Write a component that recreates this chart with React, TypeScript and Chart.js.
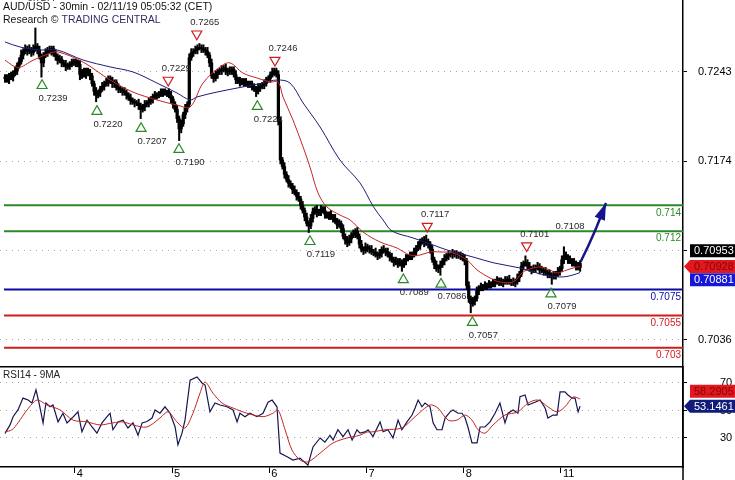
import React, { useEffect, useRef } from 'react';
import { Chart, registerables } from 'chart.js';

Chart.register(...registerables);

const FONT = '"Liberation Sans", Arial, Helvetica, sans-serif';
const PIP = 10000;

// ---------- axes ----------
const dayTicks = [34.5, 82.5, 130.5, 178.5, 226.5, 274.5];
const dayLabels = ['4', '5', '6', '7', '8', '11'];
const priceTicks = [0.7243, 0.7174, 0.7105, 0.7036];
const priceMin = 0.70159;
const priceMax = 0.72986;
const rsiTicks = [30, 50, 70];
const rsiMin = 8.9;
const rsiMax = 82.36;
const xMin = -2.47;
const xMax = 334.8;

// ---------- 30min candles (pips, 7243 = 0.7243) ----------
const firstOpen = 7239;
const closes = [
  7238, 7237, 7240, 7239, 7242, 7244, 7248, 7251, 7256, 7259,
  7261, 7259, 7260, 7258, 7261, 7263, 7260, 7255, 7250, 7256,
  7258, 7260, 7259, 7261, 7257, 7255, 7252, 7253, 7250, 7249,
  7247, 7248, 7249, 7250, 7251, 7250, 7249, 7241, 7243, 7241,
  7244, 7242, 7240, 7234, 7228, 7225, 7227, 7230, 7232, 7234,
  7235, 7238, 7236, 7234, 7235, 7231, 7230, 7229, 7228, 7227,
  7225, 7223, 7221, 7220, 7219, 7219, 7217, 7214, 7216, 7218,
  7219, 7220, 7222, 7224, 7225, 7225, 7226, 7227, 7228, 7227,
  7228, 7225, 7222, 7218, 7214, 7207, 7199, 7203, 7210, 7215,
  7218, 7254, 7258, 7259, 7260, 7262, 7262, 7261, 7260, 7259,
  7256, 7250, 7240, 7238, 7241, 7243, 7244, 7245, 7246, 7244,
  7243, 7244, 7245, 7241, 7237, 7236, 7235, 7236, 7235, 7234,
  7234, 7233, 7232, 7230, 7228, 7231, 7232, 7233, 7234, 7237,
  7238, 7241, 7243, 7244, 7241, 7205, 7175, 7170, 7164, 7160,
  7157, 7155, 7152, 7150, 7147, 7145, 7140, 7136, 7131, 7126,
  7124, 7130, 7135, 7137, 7134, 7135, 7137, 7136, 7133, 7132,
  7133, 7131, 7130, 7128, 7125, 7126, 7122, 7116, 7113, 7111,
  7114, 7117, 7118, 7120, 7116, 7110, 7106, 7105, 7108, 7107,
  7106, 7104, 7104, 7102, 7101, 7103, 7106, 7105, 7104, 7102,
  7100, 7098, 7096, 7097, 7095, 7096, 7094, 7097, 7099, 7100,
  7101, 7102, 7104, 7107, 7109, 7112, 7113, 7111, 7112, 7110,
  7106, 7098, 7094, 7091, 7092, 7094, 7097, 7099, 7101, 7102,
  7102, 7103, 7102, 7102, 7101, 7101, 7099, 7097, 7078, 7068,
  7064, 7066, 7068, 7074, 7076, 7077, 7077, 7078, 7078, 7079,
  7079, 7080, 7081, 7082, 7081, 7080, 7081, 7082, 7083, 7081,
  7081, 7080, 7081, 7084, 7087, 7093, 7095, 7096, 7093, 7091,
  7090, 7091, 7092, 7093, 7090, 7090, 7089, 7088, 7087, 7086,
  7085, 7086, 7087, 7089, 7091, 7098, 7101, 7100, 7098, 7097,
  7096, 7095, 7093, 7092, 7095.3,
];
const upWick = [
  2, 3, 2, 3, 2, 3, 2, 3, 4, 2,
  3, 2, 4, 2, 3, 14, 2, 3, 2, 2,
  3, 2, 3, 2, 2, 3, 2, 3, 2, 2,
  3, 2, 2, 3, 2, 2, 2, 3, 2, 3,
  2, 2, 3, 2, 2, 3, 2, 2, 3, 2,
  3, 2, 2, 3, 2, 2, 3, 2, 2, 3,
  2, 2, 3, 2, 2, 2, 3, 2, 2, 3,
  2, 3, 2, 2, 3, 2, 2, 3, 2, 2,
  1, 2, 3, 2, 2, 3, 2, 3, 2, 3,
  2, 3, 3, 2, 3, 2, 3, 2, 3, 2,
  3, 2, 3, 2, 3, 2, 2, 3, 2, 3,
  2, 3, 2, 2, 3, 2, 3, 2, 2, 3,
  2, 2, 3, 2, 2, 3, 2, 2, 3, 2,
  2, 2, 3, 2, 2, 3, 3, 2, 3, 2,
  3, 2, 2, 3, 2, 3, 2, 3, 2, 3,
  2, 3, 3, 2, 3, 2, 3, 2, 3, 2,
  2, 3, 2, 3, 2, 3, 2, 3, 2, 3,
  3, 2, 3, 2, 3, 2, 3, 2, 3, 2,
  2, 3, 2, 3, 2, 3, 2, 3, 2, 3,
  2, 3, 2, 3, 2, 3, 2, 2, 3, 2,
  3, 2, 3, 2, 3, 2, 2, 3, 5, 2,
  2, 3, 2, 3, 2, 3, 2, 3, 2, 3,
  2, 3, 2, 3, 2, 3, 2, 3, 2, 3,
  2, 3, 2, 3, 2, 3, 2, 3, 2, 3,
  2, 3, 2, 3, 2, 3, 2, 3, 2, 3,
  2, 3, 2, 3, 2, 3, 2, 5, 2, 3,
  2, 3, 2, 3, 2, 3, 2, 3, 2, 3,
  2, 3, 2, 3, 2, 3, 7, 3, 2, 3,
  2, 3, 2, 3, 2,
];
const downWick = [
  3, 2, 3, 2, 3, 2, 3, 2, 2, 3,
  2, 3, 2, 3, 2, 2, 3, 2, 11, 3,
  2, 3, 2, 3, 2, 3, 3, 2, 3, 2,
  3, 2, 3, 2, 2, 3, 2, 4, 3, 2,
  3, 2, 3, 2, 3, 5, 2, 3, 2, 3,
  2, 3, 2, 3, 3, 2, 3, 2, 3, 2,
  3, 2, 3, 2, 3, 2, 3, 7, 2, 3,
  2, 3, 2, 3, 2, 3, 2, 2, 3, 2,
  3, 2, 3, 3, 2, 3, 9, 3, 2, 3,
  3, 2, 2, 3, 2, 3, 2, 3, 2, 3,
  2, 3, 2, 3, 2, 3, 2, 3, 2, 3,
  3, 2, 3, 2, 3, 2, 3, 2, 3, 2,
  3, 2, 3, 2, 4, 2, 3, 2, 3, 2,
  2, 3, 2, 3, 2, 3, 3, 2, 3, 2,
  3, 2, 3, 2, 3, 2, 3, 2, 3, 2,
  5, 2, 3, 2, 3, 2, 3, 2, 3, 2,
  3, 2, 3, 2, 3, 2, 3, 2, 3, 3,
  2, 3, 2, 3, 2, 3, 2, 3, 2, 3,
  3, 2, 3, 2, 3, 2, 3, 2, 3, 2,
  3, 2, 3, 2, 3, 2, 5, 2, 3, 2,
  2, 3, 2, 3, 2, 3, 2, 3, 2, 3,
  3, 2, 3, 2, 3, 6, 2, 3, 2, 3,
  2, 3, 2, 3, 2, 3, 2, 3, 3, 3,
  7, 2, 3, 2, 3, 2, 3, 2, 3, 2,
  3, 2, 3, 2, 3, 2, 3, 2, 3, 2,
  3, 2, 3, 2, 3, 2, 3, 2, 3, 2,
  3, 2, 3, 2, 3, 2, 3, 2, 3, 2,
  6, 2, 3, 2, 3, 2, 3, 2, 3, 2,
  3, 2, 3, 2, 3,
];

// ---------- moving averages (bar index, pips) ----------
const redMaX = [0, 6.4, 13.8, 22.2, 26.2, 38.5, 51.9, 63.2, 75, 84.9, 91.4, 97.8, 106.2, 111.1, 117.5, 124.4, 130.9, 134.8, 137.3, 142.2, 147.2, 150.6, 154.6, 159, 165.4, 170.4, 176.8, 185.2, 193.6, 200, 204.9, 209.9, 214.8, 221.2, 228.1, 233.1, 239.5, 244.4, 250.9, 255.3, 257.8, 264.2, 269.1, 272.6, 277.5, 282.5, 284];
const redMaY = [7252, 7246.5, 7252, 7257.5, 7258.5, 7250.7, 7236.8, 7227.5, 7221.4, 7217.5, 7216, 7234.5, 7246.9, 7250, 7242.2, 7238.4, 7235.3, 7235.3, 7223.7, 7205.9, 7185.1, 7169.6, 7149.5, 7138.7, 7132.5, 7128.7, 7119.4, 7111.7, 7107, 7101.6, 7101.6, 7104, 7104, 7103.2, 7097.8, 7090.1, 7083.9, 7080.8, 7080.8, 7087.7, 7090.1, 7092.4, 7090.1, 7087.7, 7090.1, 7092.4, 7092.8];
const blueMaX = [0, 7.4, 17.3, 25.7, 38.5, 51.9, 63.2, 75, 84.9, 91.4, 94.8, 104.7, 114.6, 127.4, 134.3, 140.7, 147.2, 155.6, 165.4, 175.3, 181.9, 186.7, 191.1, 201.5, 211.4, 218.3, 231.1, 241.5, 254.3, 262.7, 269.1, 275.6, 280.5, 284];
const blueMaY = [7266.2, 7262.3, 7260, 7260, 7252.3, 7246.9, 7243, 7234.5, 7226.8, 7221.4, 7223.7, 7227.5, 7230.6, 7234.5, 7236.8, 7234.5, 7219.1, 7200.5, 7175, 7157.3, 7139, 7128.7, 7120.2, 7114.8, 7109.4, 7105.5, 7100.1, 7095.5, 7091.6, 7087.7, 7085.4, 7084.7, 7086.2, 7088.1];

// ---------- projection arrow ----------
const arrowX = [284.3, 288.1, 291.4, 296.8];
const arrowY = [7096.5, 7109, 7120.5, 7141.8];

// ---------- key levels ----------
const levelStart = -0.5;
const levelValues = [0.714, 0.712, 0.7075, 0.7055, 0.703];
const levelLabels = ['0.714', '0.712', '0.7075', '0.7055', '0.703'];

// ---------- pivots ----------
const lowMarkX = [18.3, 45.4, 67.2, 85.9, 124.6, 150.6, 196.7, 215.3, 230.8, 269.6];
const lowMarkY = [7232.5, 7212.5, 7199.3, 7183.1, 7216.3, 7112, 7082.5, 7079.1, 7049.5, 7071.6];
const lowMarkText = ['0.7239', '0.7220', '0.7207', '0.7190', '0.7224', '0.7119', '0.7089', '0.7086', '0.7057', '0.7079'];
const highMarkX = [80.6, 94.7, 133.3, 208.5, 257.6];
const highMarkY = [7236.7, 7272.4, 7252.1, 7123.9, 7108.8];
const highMarkText = ['0.7229', '0.7265', '0.7246', '0.7117', '0.7101'];
const noteX = [279, 18.3];
const noteY = [7123.7, 7300.2];
const noteText = ['0.7108', '0.7277'];

// ---------- RSI14 and its 9MA ----------
const rsiX = [0, 2.5, 4, 6.4, 8.9, 11.4, 13.3, 15.3, 16.8, 18.8, 20.2, 22.2, 23.7, 26.2, 28.6, 30.6, 33.1, 36, 38, 40.5, 43, 45.4, 47.9, 50.4, 51.9, 53.3, 55.8, 58.3, 60.7, 63.2, 65.7, 67.7, 70.1, 72.6, 74.1, 76.5, 79, 81.5, 84, 85.4, 87.4, 88.9, 91.4, 94.8, 97.3, 98.8, 101.2, 103.7, 106.2, 109.6, 112.6, 114.6, 116, 118.5, 121, 124.4, 127.4, 129.9, 131.9, 134.3, 135.8, 139.3, 142.2, 145.7, 149.6, 152.1, 155.6, 158, 160.5, 162, 164.4, 166.9, 169.4, 171.4, 173.8, 175.3, 177.8, 179.3, 181.7, 185.2, 186.7, 189.1, 191.6, 194.1, 196, 198.5, 201, 202.5, 204, 205.9, 207.4, 209.9, 211.4, 213.3, 215.8, 217.3, 219.8, 221.2, 223.7, 225.7, 227.2, 228.6, 230.6, 233.1, 234.6, 237, 239.5, 242, 244.4, 246.9, 248.4, 250.9, 253.3, 254.3, 256.8, 258.3, 261.7, 264.2, 266.7, 268.1, 270.6, 272.6, 274.1, 276.5, 278, 280, 281.5, 283, 284];
const rsiY = [33.4, 39.5, 45.5, 50.4, 59, 57.6, 55.4, 65, 55.5, 41, 55.5, 52.7, 54, 41.7, 48, 41, 44.5, 49, 34.5, 43, 38, 33.5, 41, 45.5, 48, 36, 41.7, 43, 37.3, 41, 32, 41, 42, 44.5, 50.4, 48, 52.7, 48, 38, 25, 33.5, 43, 72, 74.4, 70, 68.5, 49, 55.5, 54, 52.7, 50.4, 41.7, 48, 45.5, 48, 45.5, 48, 56, 57.6, 52.7, 19, 16.4, 14, 15.4, 10.3, 23.5, 30, 27, 32, 28.5, 36, 31, 36, 28.5, 36, 33.5, 34.4, 36, 31, 41.7, 34.5, 36, 30, 43, 36, 41.7, 46.7, 51.8, 57.6, 52.7, 55.4, 52.7, 41, 36, 36, 44.5, 49, 50.4, 48, 48, 44.5, 38, 26.4, 26.4, 38, 38, 41.7, 48, 55.4, 41, 48, 50.4, 48, 60, 61.3, 54, 56, 57.6, 51.8, 44.5, 46.7, 46.7, 63.5, 63.5, 61.3, 59, 59, 49, 53.1461];
const rsiMaX = [0, 3.5, 6.4, 10.9, 15.8, 20.7, 27.2, 33.6, 40.5, 46.9, 53.3, 58.3, 63.2, 70.1, 76.5, 80.5, 84.9, 88.9, 92.8, 96.3, 98.8, 102.7, 107.2, 112.6, 119.5, 127.4, 132.3, 134.8, 138.3, 141.7, 145.7, 149.6, 155.6, 162, 168.9, 175.3, 178.8, 181.2, 187.7, 196, 202.5, 209.9, 213.8, 218.8, 223.2, 227.2, 230.6, 233.6, 237, 241, 246.9, 253.3, 258.3, 263.2, 268.1, 272.6, 276.5, 280.5, 283, 284];
const rsiMaY = [34.4, 36, 41, 50.4, 57.6, 54, 50.4, 43, 41.7, 39.5, 41, 41.7, 39.5, 38, 44.5, 49, 41.7, 37.3, 48, 62.6, 70.7, 62.6, 55.4, 51.8, 48, 45.5, 48, 50.4, 36, 21.3, 14, 12.6, 19, 26.4, 30, 32, 34.4, 34.4, 36, 37.3, 45.5, 54, 51.8, 43, 43, 46.7, 43, 36, 33.5, 39.5, 46.7, 49, 55.4, 57.6, 52.7, 49, 52.7, 59.8, 59, 58.2905];

// ---------- styles ----------
const GREEN = '#2a8a2a';
const LEVEL_BLUE = '#0a0aa5';
const RED = '#d01c1c';
const levelColors = [GREEN, GREEN, LEVEL_BLUE, RED, RED];
const MA_RED = '#c42424';
const MA_BLUE = '#1c1c78';
const ARROW = '#16168a';
const GRID = '#a8a8a8';

const toPrice = (v: number) => v / PIP;

function drawValueBox(ctx: CanvasRenderingContext2D, left: number, right: number, y: number, text: string, bg: string, fg: string, arrow: boolean) {
  const h = 13;
  const x0 = left + 7;
  ctx.fillStyle = bg;
  ctx.beginPath();
  if (arrow) {
    ctx.moveTo(left + 1, y);
    ctx.lineTo(x0, y - h / 2);
  } else {
    ctx.moveTo(x0, y - h / 2);
  }
  ctx.lineTo(right, y - h / 2);
  ctx.lineTo(right, y + h / 2);
  ctx.lineTo(x0, y + h / 2);
  ctx.closePath();
  ctx.fill();
  ctx.fillStyle = fg;
  ctx.font = `11px ${FONT}`;
  ctx.textAlign = 'left';
  ctx.textBaseline = 'middle';
  ctx.fillText(text, x0 + 4, y + 0.5);
}

export default function App() {
  const mainRef = useRef<HTMLCanvasElement | null>(null);
  const rsiRef = useRef<HTMLCanvasElement | null>(null);

  useEffect(() => {
    const opens = closes.map((c, i) => (i === 0 ? firstOpen : closes[i - 1]));
    const wickData = closes.map((c, i) => ({
      x: i,
      y: [toPrice(Math.min(opens[i], c) - downWick[i]), toPrice(Math.max(opens[i], c) + upWick[i])],
    }));
    const bodyData = closes.map((c, i) => ({ x: i, y: [toPrice(opens[i]), toPrice(c)] }));
    const redMa = redMaX.map((x, k) => ({ x, y: toPrice(redMaY[k]) }));
    const blueMa = blueMaX.map((x, k) => ({ x, y: toPrice(blueMaY[k]) }));
    const arrowPts = arrowX.map((x, k) => ({ x, y: toPrice(arrowY[k]) }));
    const lows = lowMarkX.map((x, k) => ({ x, y: toPrice(lowMarkY[k]) }));
    const highs = highMarkX.map((x, k) => ({ x, y: toPrice(highMarkY[k]) }));

    const levelSets = levelValues.map((v, k) => ({
      type: 'line' as const,
      data: [{ x: levelStart, y: v }, { x: xMax, y: v }],
      borderColor: levelColors[k],
      borderWidth: 2,
      pointRadius: 0,
      order: 60,
    }));

    const mainOverlay = {
      id: 'mainOverlay',
      afterDatasetsDraw(chart: any) {
        const { ctx, chartArea, scales } = chart;
        const xs = scales.x;
        const ys = scales.y;
        ctx.save();
        // arrow head
        const n = arrowX.length;
        const tx = xs.getPixelForValue(arrowX[n - 1]);
        const ty = ys.getPixelForValue(toPrice(arrowY[n - 1]));
        const pxp = xs.getPixelForValue(arrowX[n - 2]);
        const pyp = ys.getPixelForValue(toPrice(arrowY[n - 2]));
        const ang = Math.atan2(ty - pyp, tx - pxp);
        const L = 17;
        const W = 5.5;
        const bx = tx - L * Math.cos(ang);
        const by = ty - L * Math.sin(ang);
        ctx.fillStyle = ARROW;
        ctx.beginPath();
        ctx.moveTo(tx, ty);
        ctx.lineTo(bx + W * Math.sin(ang), by - W * Math.cos(ang));
        ctx.lineTo(bx - W * Math.sin(ang), by + W * Math.cos(ang));
        ctx.closePath();
        ctx.fill();

        // pivot labels
        ctx.font = `9.5px ${FONT}`;
        ctx.fillStyle = '#2a2a2a';
        ctx.textAlign = 'center';
        ctx.textBaseline = 'middle';
        lowMarkX.forEach((v, k) => {
          const x = xs.getPixelForValue(v);
          const y = ys.getPixelForValue(toPrice(lowMarkY[k]));
          ctx.fillText(lowMarkText[k], x + 11, y + 12.5);
        });
        highMarkX.forEach((v, k) => {
          const x = xs.getPixelForValue(v);
          const y = ys.getPixelForValue(toPrice(highMarkY[k]));
          ctx.fillText(highMarkText[k], x + 8, y - 11.5);
        });
        noteX.forEach((v, k) => {
          ctx.fillText(noteText[k], xs.getPixelForValue(v), ys.getPixelForValue(toPrice(noteY[k])));
        });

        // level labels
        ctx.font = `10px ${FONT}`;
        ctx.textAlign = 'right';
        levelValues.forEach((v, k) => {
          ctx.fillStyle = levelColors[k];
          ctx.fillText(levelLabels[k], chartArea.right - 2, ys.getPixelForValue(v) + 7.5);
        });
        ctx.restore();
      },
      afterDraw(chart: any) {
        const { ctx, chartArea, scales, width } = chart;
        const ys = scales.y;
        ctx.save();
        // title
        ctx.font = `10.5px ${FONT}`;
        ctx.textAlign = 'left';
        ctx.textBaseline = 'middle';
        ctx.fillStyle = '#111';
        ctx.fillText('AUD/USD - 30min - 02/11/19 05:05:32 (CET)', 3, 7.5);
        const pre = 'Research © ';
        ctx.fillText(pre, 3, 20.5);
        const w = ctx.measureText(pre).width;
        ctx.fillStyle = '#3b2a66';
        ctx.fillText('TRADING CENTRAL', 3 + w, 20.5);

        // last value boxes
        const lastClose = closes[closes.length - 1];
        const lastRed = redMaY[redMaY.length - 1];
        const lastBlue = blueMaY[blueMaY.length - 1];
        const redY = ys.getPixelForValue(toPrice(lastRed));
        drawValueBox(ctx, chartArea.right, width, redY - 15.6, toPrice(lastClose).toFixed(5), '#000000', '#ffffff', false);
        drawValueBox(ctx, chartArea.right, width, redY, toPrice(lastRed).toFixed(5), '#e3171d', '#7c0909', true);
        drawValueBox(ctx, chartArea.right, width, redY + 13.4, toPrice(lastBlue).toFixed(5), '#1616d6', '#ffffff', false);
        ctx.restore();
      },
    };

    const c1 = new Chart(mainRef.current as HTMLCanvasElement, {
      type: 'bar',
      data: {
        datasets: [
          ...levelSets,
          {
            type: 'bar',
            data: wickData as any,
            backgroundColor: '#000000',
            barThickness: 1.4,
            grouped: false,
            order: 50,
          },
          {
            type: 'bar',
            data: bodyData as any,
            backgroundColor: '#000000',
            barThickness: 2.6,
            grouped: false,
            order: 45,
          },
          {
            type: 'line',
            data: blueMa,
            borderColor: MA_BLUE,
            borderWidth: 1,
            pointRadius: 0,
            tension: 0.35,
            order: 40,
          },
          {
            type: 'line',
            data: redMa,
            borderColor: MA_RED,
            borderWidth: 1,
            pointRadius: 0,
            tension: 0.35,
            order: 35,
          },
          {
            type: 'line',
            data: arrowPts,
            borderColor: ARROW,
            borderWidth: 2.5,
            pointRadius: 0,
            tension: 0.3,
            order: 20,
          },
          {
            type: 'line',
            data: lows,
            showLine: false,
            pointStyle: 'triangle',
            pointRadius: 5.8,
            pointRotation: 0,
            pointBorderColor: GREEN,
            pointBackgroundColor: 'rgba(0,0,0,0)',
            pointBorderWidth: 1.2,
            order: 10,
          },
          {
            type: 'line',
            data: highs,
            showLine: false,
            pointStyle: 'triangle',
            pointRadius: 5.8,
            pointRotation: 180,
            pointBorderColor: RED,
            pointBackgroundColor: 'rgba(0,0,0,0)',
            pointBorderWidth: 1.2,
            order: 10,
          },
        ] as any,
      },
      options: {
        responsive: false,
        animation: false,
        events: [],
        layout: { padding: 0, autoPadding: false },
        plugins: { legend: { display: false }, tooltip: { enabled: false } },
        scales: {
          x: { type: 'linear', min: xMin, max: xMax, display: false, offset: false },
          y: {
            type: 'linear',
            position: 'right',
            min: priceMin,
            max: priceMax,
            afterBuildTicks: (s: any) => {
              s.ticks = priceTicks.map((v) => ({ value: v }));
            },
            afterFit: (s: any) => {
              s.width = 52;
              s.paddingTop = 0;
              s.paddingBottom = 0;
            },
            ticks: {
              callback: (v: any) => Number(v).toFixed(4),
              font: { size: 11, family: FONT },
              color: '#000',
              padding: 11,
              autoSkip: false,
            },
            grid: { color: GRID, lineWidth: 1, tickLength: 4, tickColor: '#000', tickWidth: 1, tickBorderDash: [] },
            border: { display: true, color: '#000', width: 1.5, dash: [1, 5] },
          },
        },
      } as any,
      plugins: [mainOverlay],
    });

    const rsiOverlay = {
      id: 'rsiOverlay',
      afterDraw(chart: any) {
        const { ctx, chartArea, scales, width, height } = chart;
        const ys = scales.y;
        ctx.save();
        ctx.strokeStyle = '#000';
        ctx.lineWidth = 1.5;
        ctx.beginPath();
        ctx.moveTo(0, 0.75);
        ctx.lineTo(chartArea.right, 0.75);
        ctx.moveTo(chartArea.right, 0);
        ctx.lineTo(chartArea.right, height);
        ctx.stroke();

        ctx.font = `10px ${FONT}`;
        ctx.fillStyle = '#222';
        ctx.textAlign = 'left';
        ctx.textBaseline = 'middle';
        ctx.fillText('RSI14 - 9MA', 3, 9.5);

        const lastRsi = rsiY[rsiY.length - 1];
        const lastMa = rsiMaY[rsiMaY.length - 1];
        const rsiPix = ys.getPixelForValue(lastRsi);
        drawValueBox(ctx, chartArea.right, width, rsiPix - 15, lastMa.toFixed(4), '#e3171d', '#7c0909', false);
        drawValueBox(ctx, chartArea.right, width, rsiPix, lastRsi.toFixed(4), '#111c7a', '#ffffff', true);
        ctx.restore();
      },
    };

    const c2 = new Chart(rsiRef.current as HTMLCanvasElement, {
      type: 'line',
      data: {
        datasets: [
          {
            data: rsiX.map((x, k) => ({ x, y: rsiY[k] })),
            borderColor: '#161650',
            borderWidth: 1.2,
            pointRadius: 0,
            tension: 0,
            order: 2,
          },
          {
            data: rsiMaX.map((x, k) => ({ x, y: rsiMaY[k] })),
            borderColor: MA_RED,
            borderWidth: 1,
            pointRadius: 0,
            tension: 0.3,
            order: 1,
          },
        ],
      },
      options: {
        responsive: false,
        animation: false,
        events: [],
        layout: { padding: 0, autoPadding: false },
        plugins: { legend: { display: false }, tooltip: { enabled: false } },
        scales: {
          x: {
            type: 'linear',
            min: xMin,
            max: xMax,
            offset: false,
            afterBuildTicks: (s: any) => {
              s.ticks = dayTicks.map((v) => ({ value: v }));
            },
            afterFit: (s: any) => {
              s.height = 13;
              s.paddingLeft = 0;
              s.paddingRight = 0;
            },
            ticks: {
              callback: (_v: any, idx: number) => dayLabels[idx] ?? '',
              align: 'start',
              labelOffset: 2,
              padding: -6,
              font: { size: 11, family: FONT },
              color: '#000',
              autoSkip: false,
              maxRotation: 0,
              minRotation: 0,
            },
            grid: { drawOnChartArea: false, tickLength: 6, tickColor: '#000', tickWidth: 1, color: '#000' },
            border: { display: true, color: '#000', width: 1.5 },
          },
          y: {
            type: 'linear',
            position: 'right',
            min: rsiMin,
            max: rsiMax,
            afterBuildTicks: (s: any) => {
              s.ticks = rsiTicks.map((v) => ({ value: v }));
            },
            afterFit: (s: any) => {
              s.width = 52;
              s.paddingTop = 0;
              s.paddingBottom = 0;
            },
            ticks: { padding: 33, font: { size: 11, family: FONT }, color: '#000', autoSkip: false },
            grid: { color: GRID, lineWidth: 1, tickLength: 4, tickColor: '#000', tickWidth: 1, tickBorderDash: [] },
            border: { display: true, color: '#000', width: 1.5, dash: [1, 5] },
          },
        },
      } as any,
      plugins: [rsiOverlay],
    });

    return () => {
      c1.destroy();
      c2.destroy();
    };
  }, []);

  return (
    <div style={{ position: 'fixed', left: 0, top: 0, width: 735, height: 480, background: '#ffffff' }}>
      <canvas ref={mainRef} width={735} height={366} style={{ position: 'absolute', left: 0, top: 0, display: 'block' }} />
      <canvas ref={rsiRef} width={735} height={114} style={{ position: 'absolute', left: 0, top: 366, display: 'block' }} />
    </div>
  );
}
